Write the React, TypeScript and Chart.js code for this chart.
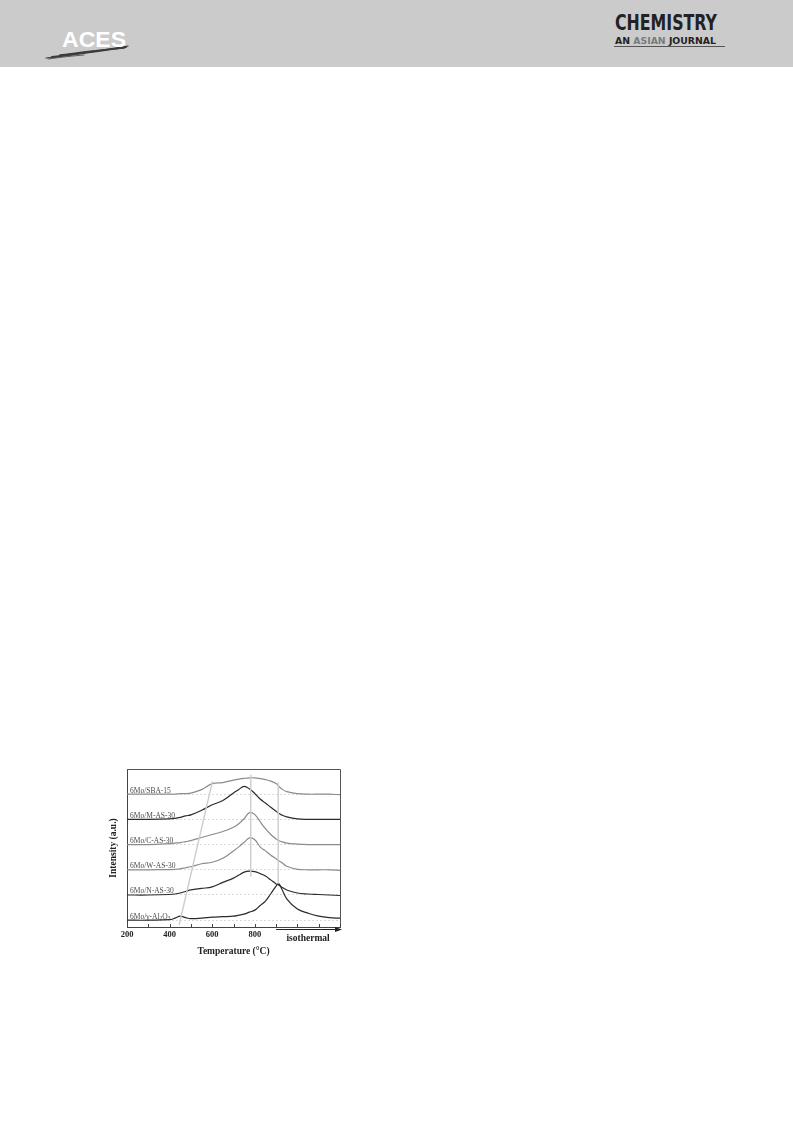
import React, { useEffect, useRef } from "react";
import { Chart, registerables } from "chart.js";

Chart.register(...registerables);

// Temperature grid (°C); values above 900 belong to the isothermal segment
const temperatures = [200, 300, 400, 425, 450, 475, 500, 550, 600, 650, 700, 725, 750, 775, 800, 825, 850, 875, 900, 912, 925, 950, 1000, 1050, 1100, 1150, 1200];

// Intensities (a.u.) above each curve's own baseline
const al2o3 = [0, 0, 0.02, 0.08, 0.16, 0.1, 0.06, 0.08, 0.12, 0.14, 0.16, 0.2, 0.24, 0.32, 0.4, 0.58, 0.76, 1.05, 1.35, 1.45, 1.27, 0.85, 0.44, 0.28, 0.16, 0.1, 0.08];
const nAS30 = [0, 0, 0.02, 0.04, 0.08, 0.14, 0.2, 0.26, 0.32, 0.5, 0.67, 0.79, 0.91, 0.95, 0.93, 0.85, 0.75, 0.6, 0.44, 0.4, 0.32, 0.2, 0.08, 0.04, 0.02, 0, -0.02];
const wAS30 = [0, 0, 0.01, 0.02, 0.04, 0.08, 0.12, 0.24, 0.3, 0.46, 0.75, 0.91, 1.09, 1.27, 1.19, 0.91, 0.75, 0.58, 0.44, 0.36, 0.3, 0.14, 0.02, 0, 0, 0, -0.02];
const cAS30 = [0, 0, 0.04, 0.06, 0.08, 0.12, 0.16, 0.28, 0.4, 0.52, 0.69, 0.83, 1.03, 1.27, 1.19, 0.91, 0.63, 0.4, 0.22, 0.16, 0.12, 0.06, 0.02, 0, 0, 0, 0];
const mAS30 = [0, 0, 0.02, 0.04, 0.08, 0.14, 0.18, 0.36, 0.58, 0.75, 1.05, 1.19, 1.31, 1.21, 1.03, 0.81, 0.65, 0.48, 0.32, 0.24, 0.18, 0.1, 0.02, 0, 0, 0, 0];
const sba15 = [0, 0, 0, 0, 0.02, 0.02, 0.04, 0.18, 0.42, 0.46, 0.56, 0.6, 0.63, 0.65, 0.65, 0.62, 0.58, 0.52, 0.42, 0.32, 0.22, 0.1, 0.02, 0, 0, 0, -0.02];

const seriesNames = ["6Mo/γ-Al₂O₃", "6Mo/N-AS-30", "6Mo/W-AS-30", "6Mo/C-AS-30", "6Mo/M-AS-30", "6Mo/SBA-15"];
const seriesValues = [al2o3, nAS30, wAS30, cAS30, mAS30, sba15];
const seriesOffsets = [0, 1, 2, 3, 4, 5];
const seriesColors = ["#2b2b2b", "#2b2b2b", "#8c8c8c", "#8c8c8c", "#2b2b2b", "#8c8c8c"];

// Guide lines (temperature, a.u.)
const slantGuideX = [445, 601];
const slantGuideY = [-0.18, 5.51];
const peakGuideX = [781, 781];
const peakGuideY = [1.73, 5.77];
const isoGuideX = [910, 910];
const isoGuideY = [1.45, 5.46];

const xTicks = [200, 300, 400, 500, 600, 700, 800, 900, 1000, 1100, 1200];
const xTickLabels = ["200", "", "400", "", "600", "", "800", "", "", "", ""];
const yGridValues = [0, 1, 2, 3, 4, 5, 6];
const isothermalStart = 900;
const isothermalEnd = 1200;
const isothermalLabelAt = 1050;

const SERIF = "'Liberation Serif', 'Times New Roman', 'DejaVu Serif', serif";
const SUBSCRIPTS: Record<string, string> = { "₂": "2", "₃": "3" };

function drawLabel(ctx: CanvasRenderingContext2D, text: string, x: number, y: number) {
  let cx = x;
  for (const ch of Array.from(text)) {
    if (SUBSCRIPTS[ch]) {
      ctx.font = `5.5px ${SERIF}`;
      ctx.fillText(SUBSCRIPTS[ch], cx, y + 1.8);
      cx += ctx.measureText(SUBSCRIPTS[ch]).width;
    } else {
      ctx.font = `7.5px ${SERIF}`;
      ctx.fillText(ch, cx, y);
      cx += ctx.measureText(ch).width;
    }
  }
}

function ChartBox() {
  const ref = useRef<HTMLCanvasElement | null>(null);

  useEffect(() => {
    if (!ref.current) return;
    const guide = (xs: number[], ys: number[]) => ({
      data: xs.map((x, i) => ({ x, y: ys[i] })),
      borderColor: "#cdcdcd",
      borderWidth: 1.4,
      pointRadius: 0,
      tension: 0,
    });
    const datasets: any[] = [
      guide(slantGuideX, slantGuideY),
      guide(peakGuideX, peakGuideY),
      guide(isoGuideX, isoGuideY),
      ...seriesValues.map((vals, s) => ({
        label: seriesNames[s],
        data: temperatures.map((t, i) => ({ x: t, y: seriesOffsets[s] + vals[i] })),
        borderColor: seriesColors[s],
        borderWidth: 1.2,
        pointRadius: 0,
        tension: 0.4,
      })),
    ];

    const decor = {
      id: "decor",
      afterDatasetsDraw(chart: any) {
        const { ctx, chartArea, scales } = chart;
        const xs = scales.x;
        const ys = scales.y;
        ctx.save();
        // box top & right
        ctx.strokeStyle = "#555";
        ctx.lineWidth = 1;
        ctx.beginPath();
        ctx.moveTo(chartArea.left, chartArea.top + 0.5);
        ctx.lineTo(chartArea.right + 0.5, chartArea.top + 0.5);
        ctx.lineTo(chartArea.right + 0.5, chartArea.bottom);
        ctx.stroke();
        // inward x ticks
        ctx.strokeStyle = "#444";
        ctx.beginPath();
        xTicks.forEach((v) => {
          const px = Math.round(xs.getPixelForValue(v)) + 0.5;
          ctx.moveTo(px, chartArea.bottom);
          ctx.lineTo(px, chartArea.bottom - 3);
        });
        ctx.stroke();
        // isothermal arrow
        const ay = chartArea.bottom + 2.5;
        const ax0 = xs.getPixelForValue(isothermalStart);
        const ax1 = xs.getPixelForValue(isothermalEnd) + 2;
        ctx.strokeStyle = "#222";
        ctx.beginPath();
        ctx.moveTo(ax0, ay);
        ctx.lineTo(ax1 - 4, ay);
        ctx.stroke();
        ctx.fillStyle = "#222";
        ctx.beginPath();
        ctx.moveTo(ax1, ay);
        ctx.lineTo(ax1 - 7, ay - 2.5);
        ctx.lineTo(ax1 - 7, ay + 2.5);
        ctx.closePath();
        ctx.fill();
        ctx.font = `bold 9.5px ${SERIF}`;
        ctx.textAlign = "center";
        ctx.textBaseline = "middle";
        ctx.fillStyle = "#222";
        ctx.fillText("isothermal", xs.getPixelForValue(isothermalLabelAt), chartArea.bottom + 11.5);
        // series labels
        ctx.textAlign = "left";
        ctx.textBaseline = "alphabetic";
        ctx.fillStyle = "#4a4a4a";
        seriesNames.forEach((n, i) => {
          drawLabel(ctx, n, chartArea.left + 3, ys.getPixelForValue(seriesOffsets[i]) - 1.5);
        });
        ctx.restore();
      },
    };

    const chart = new Chart(ref.current, {
      type: "line",
      data: { datasets },
      options: {
        animation: false,
        responsive: false,
        maintainAspectRatio: false,
        devicePixelRatio: 1,
        layout: { padding: { top: 9, right: 10, left: 0, bottom: 0 } },
        plugins: { legend: { display: false }, tooltip: { enabled: false }, title: { display: false } },
        scales: {
          x: {
            type: "linear",
            min: 200,
            max: 1200,
            afterBuildTicks: (s: any) => {
              s.ticks = xTicks.map((v) => ({ value: v }));
            },
            afterFit: (s: any) => {
              s.height = 38;
            },
            ticks: {
              autoSkip: false,
              maxRotation: 0,
              padding: 3,
              color: "#222",
              font: { family: SERIF, weight: "bold", size: 8.5 },
              callback: (_v: any, i: number) => xTickLabels[i],
            },
            grid: { display: false, drawTicks: false },
            border: { display: true, color: "#444", width: 1 },
            title: {
              display: true,
              text: "Temperature (°C)",
              color: "#222",
              font: { family: SERIF, weight: "bold", size: 9.5 },
              padding: { top: 0, bottom: 8 },
            },
          },
          y: {
            type: "linear",
            min: -0.27,
            max: 6,
            afterBuildTicks: (s: any) => {
              s.ticks = yGridValues.map((v) => ({ value: v }));
            },
            afterFit: (s: any) => {
              s.width = 32;
            },
            ticks: { display: false },
            grid: { color: "#dadada", lineWidth: 1, drawTicks: false },
            border: { display: true, color: "#444", width: 1, dash: [2, 2] },
            title: {
              display: true,
              text: "Intensity (a.u.)",
              color: "#222",
              font: { family: SERIF, weight: "bold", size: 9.5 },
              padding: { top: 13, bottom: 0 },
            },
          },
        },
      } as any,
      plugins: [decor],
    });
    return () => chart.destroy();
  }, []);

  return (
    <canvas
      ref={ref}
      width={255}
      height={205}
      style={{ position: "absolute", left: 95, top: 760, width: 255, height: 205 }}
    />
  );
}

function Header() {
  return (
    <svg width={793} height={67} style={{ position: "absolute", left: 0, top: 0 }}>
      <rect x={0} y={0} width={793} height={67} fill="#cbcbcb" />
      <g stroke="#3c3c3c" strokeLinecap="round" fill="none">
        <path d="M46 58 C70 55, 100 51, 128 46" strokeWidth={1.2} />
        <path d="M52 57 C78 54, 104 50, 126 47" strokeWidth={2} />
        <path d="M60 55 C85 52, 108 49, 124 48" strokeWidth={1.5} />
        <path d="M48 59 C62 57, 72 56, 84 55" strokeWidth={0.8} />
      </g>
      <text
        x={62}
        y={47}
        fill="#ffffff"
        fontFamily="'Liberation Sans', Arial, sans-serif"
        fontWeight="bold"
        fontSize={22}
        textLength={64}
        lengthAdjust="spacingAndGlyphs"
      >
        ACES
      </text>
      <text
        x={615}
        y={30}
        fill="#222"
        fontFamily="'Liberation Sans Narrow', 'DejaVu Sans Condensed', 'Liberation Sans', sans-serif"
        fontWeight="bold"
        fontSize={22}
        textLength={102}
        lengthAdjust="spacingAndGlyphs"
      >
        CHEMISTRY
      </text>
      <text
        x={615}
        y={44}
        fill="#222"
        fontFamily="'Liberation Sans Narrow', 'DejaVu Sans Condensed', 'Liberation Sans', sans-serif"
        fontWeight="bold"
        fontSize={9}
        textLength={101}
        lengthAdjust="spacingAndGlyphs"
      >
        <tspan>AN </tspan>
        <tspan fill="#7a7a7a">ASIAN</tspan>
        <tspan> JOURNAL</tspan>
      </text>
      <line x1={614} x2={725} y1={46.5} y2={46.5} stroke="#555" strokeWidth={1} />
    </svg>
  );
}

export default function App() {
  return (
    <div
      style={{
        position: "absolute",
        left: 0,
        top: 0,
        width: 793,
        height: 1121,
        background: "#ffffff",
        overflow: "hidden",
      }}
    >
      <Header />
      <ChartBox />
    </div>
  );
}
